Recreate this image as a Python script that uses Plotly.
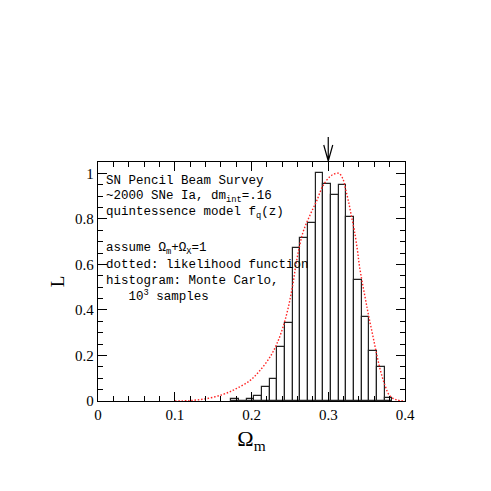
import plotly.graph_objects as go

# histogram of Monte Carlo fits (bin centres, normalised heights)
bin_centers = [0.1785, 0.1885, 0.1985, 0.2085, 0.2185, 0.2285, 0.2385, 0.2485,
               0.2585, 0.2685, 0.2785, 0.2885, 0.2985, 0.3085, 0.3185, 0.3285,
               0.3385, 0.3485, 0.3585, 0.3685, 0.3785]
bin_heights = [0.01, 0.0, 0.01, 0.02, 0.06, 0.095, 0.237, 0.344,
               0.672, 0.717, 0.78, 1.0, 0.955, 0.905, 0.95, 0.807,
               0.533, 0.371, 0.219, 0.149, 0.015]
bin_width = 0.01

# likelihood function (dotted curve)
like_x = [0.100, 0.120, 0.141, 0.163, 0.180, 0.198, 0.211, 0.224, 0.233, 0.241,
          0.248, 0.254, 0.259, 0.267, 0.276, 0.285, 0.293, 0.302, 0.308, 0.314,
          0.319, 0.323, 0.327, 0.330, 0.334, 0.338, 0.341, 0.348, 0.353, 0.3585,
          0.363, 0.368, 0.374, 0.380, 0.389, 0.400]
like_y = [0.0, 0.002, 0.01, 0.029, 0.054, 0.09, 0.134, 0.193, 0.251, 0.324,
          0.412, 0.515, 0.62, 0.74, 0.815, 0.88, 0.945, 0.985, 0.998, 1.0,
          0.977, 0.925, 0.867, 0.815, 0.749, 0.662, 0.585, 0.456, 0.368, 0.28,
          0.207, 0.134, 0.068, 0.024, 0.005, 0.0]

arrow_x = 0.3

notes = [
    "SN Pencil Beam Survey",
    "~2000 SNe Ia, dm<sub>int</sub>=.16",
    "quintessence model f<sub>q</sub>(z)",
    "assume \u03a9<sub>m</sub>+\u03a9<sub>X</sub>=1",
    "dotted: likelihood function",
    "histogram: Monte Carlo,",
    "   10<sup>3</sup> samples",
]
note_y = [0.920, 0.853, 0.786, 0.637, 0.567, 0.502, 0.438]

SERIF = "Liberation Serif"
MONO = "Liberation Mono"

fig = go.Figure()
fig.add_trace(go.Bar(x=bin_centers, y=bin_heights, width=bin_width,
                     marker=dict(color="white", line=dict(color="#222", width=1.2)),
                     showlegend=False))
fig.add_trace(go.Scatter(x=like_x, y=like_y, mode="lines",
                         line=dict(color="#f22", dash="1.5px,1.8px", width=1.4, shape="spline"),
                         showlegend=False))

for txt, yy in zip(notes, note_y):
    fig.add_annotation(text=txt, xref="paper", yref="paper", x=0.018, y=yy,
                       xanchor="left", yanchor="middle", showarrow=False,
                       font=dict(family=MONO, size=12.5, color="black"))

# arrow above the frame
fig.add_shape(type="path", xref="x", yref="paper", x0=arrow_x, y0=1,
              xsizemode="pixel", ysizemode="pixel", xanchor=arrow_x, yanchor=1,
              path="M0,0 L0,25 M-4.5,17 L0,1 L4.5,17",
              line=dict(color="black", width=1.2))

axis_common = dict(showline=True, linecolor="black", linewidth=1.3, mirror="allticks",
                   ticks="inside", ticklen=9, tickwidth=1.1, tickcolor="black",
                   showgrid=False, zeroline=False, automargin=False,
                   tickfont=dict(family=SERIF, size=15, color="black"))

# page body adds 8px, so margins are shifted accordingly
fig.update_layout(
    width=491, height=491,
    margin=dict(l=90, r=94, t=154, b=98),
    paper_bgcolor="white", plot_bgcolor="white",
    bargap=0,
    xaxis=dict(range=[0, 0.4], dtick=0.1,
               minor=dict(dtick=0.02, ticks="inside", ticklen=4.5, tickcolor="black"),
               title=dict(text="\u03a9<sub>m</sub>", font=dict(family=SERIF, size=22, color="black"),
                          standoff=8),
               **axis_common),
    yaxis=dict(range=[0, 1.05], dtick=0.2,
               minor=dict(dtick=0.05, ticks="inside", ticklen=4.5, tickcolor="black"),
               title=dict(text="L", font=dict(family=SERIF, size=19, color="black"),
                          standoff=5),
               **axis_common),
)

fig.write_html("out.html")
